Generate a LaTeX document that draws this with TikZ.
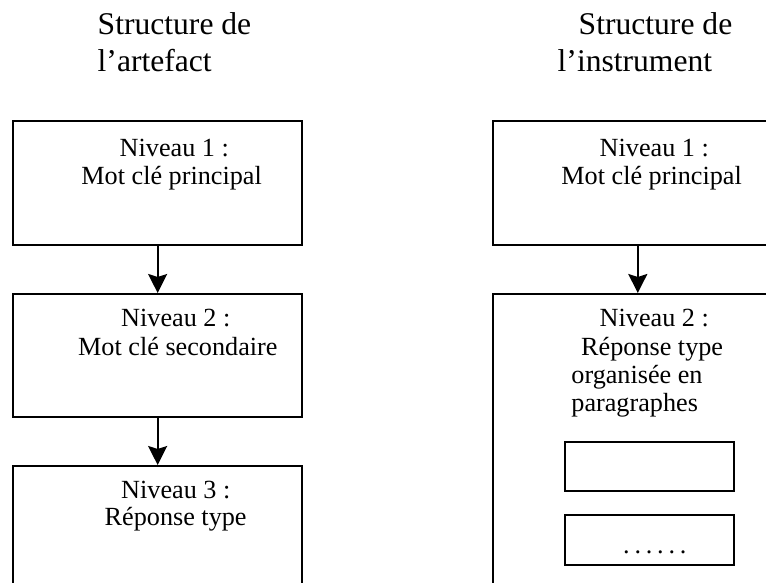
\documentclass[tikz,border=0pt]{standalone}
\usepackage{fontspec}
\setmainfont{Liberation Serif}
\usetikzlibrary{arrows.meta}
\begin{document}
\begin{tikzpicture}[x=1pt,y=-1pt,
  box/.style={draw=black, line width=2pt, rectangle, inner sep=0pt, anchor=north west},
  body/.style={inner sep=0pt, anchor=base west, font=\fontsize{26.2}{28.3}\selectfont},
  title/.style={inner sep=0pt, anchor=base west, font=\fontsize{31.6}{35}\selectfont},
  conn/.style={line width=2pt, -{Stealth[length=19pt, width=19pt, inset=3pt]}}]
\clip (0,0) rectangle (766,583);
\fill[white] (0,0) rectangle (766,583);
% titles
\node[title] (t1a) at (97.5,35) {Structure de};
\node[title] (t1b) at (97.5,71.7) {l’artefact};
\node[title] (t2a) at (578.5,35) {Structure de};
\node[title] (t2b) at (557.5,71.7) {l’instrument};
% left column
\node[box, minimum width=288.7pt, minimum height=123.7pt] (l1) at (12.3,120) {};
\node[box, minimum width=288.7pt, minimum height=123pt] (l2) at (12.3,293) {};
\node[box, minimum width=288.7pt, minimum height=124pt] (l3) at (12.3,465) {};
\node[body] (l1a) at (119.5,156.7) {Niveau 1 :};
\node[body] (l1b) at (81.2,185) {Mot clé principal};
\node[body] (l2a) at (121,326.7) {Niveau 2 :};
\node[body] (l2b) at (78,355) {Mot clé secondaire};
\node[body] (l3a) at (121,498.3) {Niveau 3 :};
\node[body] (l3b) at (104.5,525) {Réponse type};
\draw[conn] (l1.south) -- (l2.north);
\draw[conn] (l2.south) -- (l3.north);
% right column
\node[box, minimum width=289pt, minimum height=123.7pt] (r1) at (492.3,120) {};
\node[box, minimum width=289pt, minimum height=330pt] (r2) at (492.3,293) {};
\node[body] (r1a) at (599.5,156.7) {Niveau 1 :};
\node[body] (r1b) at (561.2,185) {Mot clé principal};
\node[body] (r2a) at (599.5,326.7) {Niveau 2 :};
\node[body] (r2b) at (581,355) {Réponse type};
\node[body] (r2c) at (571.2,383.3) {organisée en};
\node[body] (r2d) at (571.2,411.7) {paragraphes};
\node[box, minimum width=168.4pt, minimum height=49.3pt] (p1) at (564.3,440.7) {};
\node[box, minimum width=168.4pt, minimum height=49.7pt] (p2) at (564.3,514.3) {};
\node[body] (dots) at (623,553) {.\hspace{4.8pt}.\hspace{4.8pt}.\hspace{4.8pt}.\hspace{4.8pt}.\hspace{4.8pt}.};
\draw[conn] (r1.south) -- (r2.north);
\end{tikzpicture}
\end{document}
